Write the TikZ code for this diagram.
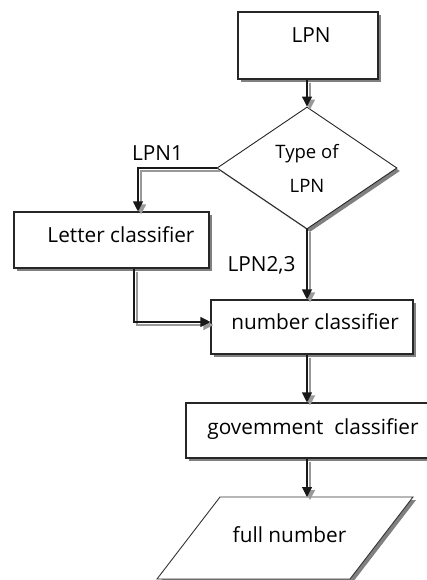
\documentclass[tikz,border=0pt]{standalone}
\usepackage{fontspec}
\setmainfont{Open Sans}
\usetikzlibrary{shapes.geometric,shadows,arrows.meta}
\newcommand\otxt[3]{\raisebox{\dimexpr#2-7.5pt\relax}[0pt][0pt]{\makebox[0pt]{\hspace*{\dimexpr2\dimexpr#1\relax\relax}#3}}}
\begin{document}
\begin{tikzpicture}[x=1pt,y=-1pt,
  every node/.style={font=\fontsize{20.8}{24}\selectfont, text=black},
  shade/.style={drop shadow={shadow xshift=3pt,shadow yshift=-3pt,fill=black!50,opacity=1}},
  box/.style={draw=black!85, fill=white, line width=1.1pt, shade, inner sep=0pt},
  conn/.style={draw=black!90, line width=1.1pt, -{Triangle[length=10pt,width=10pt]},
    preaction={draw=black!40, line width=1.3pt, transform canvas={shift={(3pt,-3pt)}}}},
  lbl/.style={inner sep=0pt}]
\useasboundingbox (0,0) rectangle (427,580);
\fill[white] (0,0) rectangle (427,580);
\clip (0,0) rectangle (427,580);

\node[box, minimum width=140pt, minimum height=67pt] (lpn) at (308,45.5) {\otxt{3pt}{10.5pt}{LPN}};
\node[box, diamond, line width=0.9pt, minimum width=180pt, minimum height=122pt, align=center,
  font=\fontsize{18.5}{34}\selectfont] (type) at (307,168) {Type of\\LPN};
\node[box, minimum width=195pt, minimum height=56pt] (letter) at (111.5,240) {\otxt{9.5pt}{5pt}{Letter classifier}};
\node[box, minimum width=202pt, minimum height=54pt] (number) at (312,327) {\otxt{3pt}{5.5pt}{number classifier}};
\node[box, minimum width=254pt, minimum height=55pt] (gov) at (313,430.5) {\otxt{0pt}{3.5pt}{govemment\ \ classifier}};
\path[draw=black!80, fill=white, line width=0.9pt, shade] (220,497) -- (413,497) -- (350,579) -- (157,579) -- cycle;
\coordinate (ptop) at (307,497);
\node[lbl] (full) at (289.5,535) {full number};

\node[lbl] (l1) at (157.5,153.5) {LPN1};
\node[lbl] (l23) at (261.5,265) {LPN2,3};

\draw[conn] (type.north |- lpn.south) -- (type.north);
\draw[conn] (type.west) -| ([xshift=26.5pt]letter.north);
\draw[conn] ([xshift=22.5pt]letter.south) |- ([yshift=5pt]number.west);
\draw[conn] (type.south) -- (type.south |- number.north);
\draw[conn] (type.south |- number.south) -- (type.south |- gov.north);
\draw[conn] (type.south |- gov.south) -- (ptop);
\end{tikzpicture}
\end{document}
